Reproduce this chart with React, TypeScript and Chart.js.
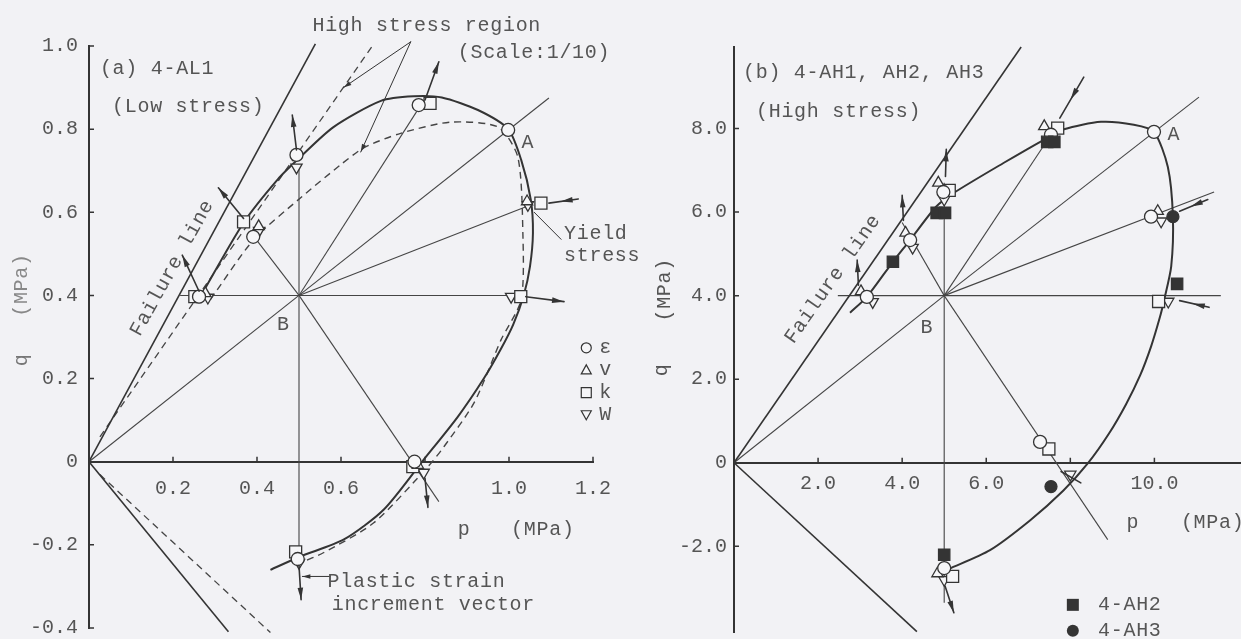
import React, { useEffect, useRef } from 'react';
import { Chart, registerables } from 'chart.js';

Chart.register(...registerables);

type Pt = [number, number];

const INK = '#343434';
const THIN = '#454545';
const TEXT = '#555555';
const PAPER = '#f2f2f5';
const MARKER_FILL = '#f6f6f8';
const FONT = '"Liberation Mono", "DejaVu Sans Mono", monospace';

// ---------------- (a) 4-AL1, low stress ----------------
const centreA: Pt = [0.5, 0.4];
const failureLineA: Pt[] = [[0, 0], [0.539, 1.005]];
const lowerLineA: Pt[] = [[0, 0], [0.332, -0.409]];
const scaledFailureA: Pt[] = [[0.026, 0.06], [0.678, 1.005]];
const scaledLowerA: Pt[] = [[0.026, -0.031], [0.432, -0.411]];
const rayEndsA: Pt[] = [
  [0, 0], [0.39, 0.545], [0.5, 0.715], [0.785, 0.85], [1.095, 0.875],
  [1.045, 0.615], [0.217, 0.4], [1.0, 0.4], [0.833, -0.096], [0.5, -0.25],
];
const yieldCurveA: Pt[] = [
  [0.265, 0.397], [0.368, 0.575], [0.45, 0.68], [0.5, 0.73], [0.582, 0.805],
  [0.695, 0.868], [0.773, 0.879], [0.84, 0.876], [0.926, 0.846], [0.998, 0.8],
  [1.029, 0.726], [1.052, 0.63], [1.057, 0.55], [1.05, 0.47], [1.035, 0.4],
  [1.01, 0.33], [0.98, 0.27], [0.94, 0.2], [0.878, 0.108], [0.797, 0.005],
  [0.702, -0.115], [0.607, -0.187], [0.503, -0.228], [0.432, -0.26],
];
const scaledYieldA: Pt[] = [
  [0.289, 0.39], [0.392, 0.534], [0.504, 0.635], [0.6, 0.715], [0.654, 0.755],
  [0.742, 0.79], [0.862, 0.817], [0.974, 0.805], [1.021, 0.733], [1.033, 0.55],
  [1.029, 0.39], [0.981, 0.293], [0.917, 0.142], [0.845, 0.036], [0.807, -0.012],
  [0.678, -0.147], [0.558, -0.219], [0.504, -0.243],
];
const epsilonA: Pt[] = [[0.262, 0.397], [0.391, 0.541], [0.494, 0.738], [0.785, 0.858], [0.998, 0.798], [0.775, 0.0], [0.497, -0.234]];
const volumeA: Pt[] = [[0.277, 0.405], [0.404, 0.566], [1.043, 0.626], [0.783, -0.008]];
const kappaA: Pt[] = [[0.252, 0.397], [0.368, 0.577], [0.812, 0.862], [1.076, 0.622], [1.028, 0.397], [0.771, -0.012], [0.492, -0.217]];
const workA: Pt[] = [[0.283, 0.395], [0.405, 0.556], [0.494, 0.708], [1.045, 0.618], [1.005, 0.397], [0.797, -0.026], [0.5, -0.243]];
// plastic strain increment vectors: [tail, tip, head position along the shaft]
const vectorsA: [Pt, Pt, number][] = [
  [[0.262, 0.41], [0.222, 0.497], 1],
  [[0.368, 0.585], [0.308, 0.659], 1],
  [[0.494, 0.75], [0.484, 0.834], 1],
  [[0.8, 0.87], [0.833, 0.962], 1],
  [[1.165, 0.632], [1.095, 0.622], 0.6],
  [[1.04, 0.397], [1.131, 0.385], 1],
  [[0.8, -0.04], [0.807, -0.11], 1],
  [[0.5, -0.25], [0.505, -0.332], 1],
];
const leadersA: [Pt, Pt, number][] = [
  [[0.766, 1.01], [0.647, 0.745], 1],
  [[0.766, 1.01], [0.606, 0.9], 1],
  [[1.124, 0.535], [1.06, 0.6], 0],
  [[0.575, -0.276], [0.508, -0.276], 1],
];
const xTicksA = [0.2, 0.4, 0.6, 0.8, 1.0, 1.2];
const xTickLabelsA = ['0.2', '0.4', '0.6', '', '1.0', '1.2'];
const yTicksA = [-0.4, -0.2, 0, 0.2, 0.4, 0.6, 0.8, 1.0];
const yTickLabelsA = ['-0.4', '-0.2', '0', '0.2', '0.4', '0.6', '0.8', '1.0'];

// ---------------- (b) 4-AH1, AH2, AH3, high stress ----------------
const centreB: Pt = [5.0, 4.0];
const failureLineB: Pt[] = [[0, 0], [6.83, 9.95]];
const lowerLineB: Pt[] = [[0, 0], [4.35, -4.04]];
const rayEndsB: Pt[] = [
  [0, 0], [4.0, 5.75], [5.0, 6.7], [7.54, 7.85], [11.06, 8.75],
  [11.42, 6.48], [2.47, 4.0], [11.58, 4.0], [8.89, -1.84], [5.0, -3.35],
];
const yieldCurveB: Pt[] = [
  [2.76, 3.59], [3.16, 3.97], [3.78, 4.81], [4.19, 5.33], [4.8, 6.12],
  [5.23, 6.46], [6.42, 7.18], [7.37, 7.73], [7.85, 7.98], [8.73, 8.16],
  [9.51, 8.09], [9.99, 7.92], [10.32, 7.08], [10.44, 5.89], [10.4, 4.7],
  [10.23, 3.89], [10.13, 3.48], [9.92, 2.78], [9.66, 2.09], [9.32, 1.39],
  [8.92, 0.7], [8.42, -0.01], [7.83, -0.67], [7.04, -1.38], [6.09, -2.09],
  [5.11, -2.54],
];
const epsilonB: Pt[] = [[3.16, 3.97], [4.19, 5.33], [4.98, 6.48], [7.54, 7.85], [9.99, 7.92], [9.92, 5.89], [7.28, 0.5], [5.0, -2.52]];
const volumeB: Pt[] = [[3.02, 4.1], [4.08, 5.5], [4.86, 6.7], [7.38, 8.05], [10.08, 6.02], [4.84, -2.65]];
const kappaB: Pt[] = [[5.12, 6.52], [7.7, 8.01], [10.1, 3.86], [7.49, 0.33], [5.2, -2.72]];
const workB: Pt[] = [[3.3, 3.85], [4.25, 5.15], [5.0, 6.3], [10.16, 5.78], [10.33, 3.86], [5.0, -2.8], [8.0, -0.28]];
const ah2B: Pt[] = [[3.78, 4.81], [4.82, 5.98], [5.02, 5.98], [7.45, 7.68], [7.62, 7.68], [10.54, 4.28], [5.0, -2.2]];
const ah3B: Pt[] = [[10.44, 5.89], [7.54, -0.57]];
const vectorsB: [Pt, Pt, number][] = [
  [[2.96, 4.25], [2.93, 4.85], 1],
  [[4.03, 5.8], [4.0, 6.4], 1],
  [[5.03, 6.85], [5.05, 7.5], 1],
  [[8.32, 9.23], [7.75, 8.25], 0.55],
  [[11.27, 6.3], [10.6, 6.02], 0.6],
  [[11.3, 3.72], [10.6, 3.88], 0.55],
  [[7.78, -0.21], [8.25, -0.48], 0],
  [[5.02, -2.95], [5.23, -3.59], 1],
];
const xTicksB = [2, 4, 6, 8, 10];
const xTickLabelsB = ['2.0', '4.0', '6.0', '', '10.0'];
const yTicksB = [-2, 0, 2, 4, 6, 8];
const yTickLabelsB = ['-2.0', '0', '2.0', '4.0', '6.0', '8.0'];

type Note = { text: string; at: Pt; align?: CanvasTextAlign; rotate?: number; color?: string };
type Key = { shape: 'circle' | 'triangle' | 'triangleDown' | 'rect'; at: Pt; size: number; filled?: boolean };

const notesA: Note[] = [
  { text: '(a) 4-AL1', at: [0.026, 0.945] },
  { text: '(Low stress)', at: [0.055, 0.853] },
  { text: 'High stress region', at: [0.532, 1.048] },
  { text: '(Scale:1/10)', at: [0.878, 0.983] },
  { text: 'A', at: [1.045, 0.767], align: 'center' },
  { text: 'B', at: [0.463, 0.329], align: 'center' },
  { text: 'Yield', at: [1.131, 0.548] },
  { text: 'stress', at: [1.131, 0.495] },
  { text: 'Plastic strain', at: [0.568, -0.288] },
  { text: 'increment vector', at: [0.578, -0.344] },
  { text: 'p', at: [0.893, -0.163], align: 'center' },
  { text: '(MPa)', at: [1.005, -0.163] },
  { text: 'q', at: [-0.16, 0.245], align: 'center', rotate: -90, color: '#777' },
  { text: '(MPa)', at: [-0.16, 0.425], align: 'center', rotate: -90, color: '#888' },
  { text: 'Failure line', at: [0.198, 0.466], align: 'center', rotate: -61 },
  { text: 'ε', at: [1.215, 0.274] },
  { text: 'v', at: [1.215, 0.221] },
  { text: 'k', at: [1.215, 0.166] },
  { text: 'W', at: [1.215, 0.113] },
];
const keysA: Key[] = [
  { shape: 'circle', at: [1.184, 0.274], size: 10 },
  { shape: 'triangle', at: [1.184, 0.221], size: 10 },
  { shape: 'rect', at: [1.184, 0.166], size: 10 },
  { shape: 'triangleDown', at: [1.184, 0.113], size: 10 },
];
const notesB: Note[] = [
  { text: '(b) 4-AH1, AH2, AH3', at: [0.214, 9.33] },
  { text: '(High stress)', at: [0.523, 8.4] },
  { text: 'A', at: [10.46, 7.85], align: 'center' },
  { text: 'B', at: [4.59, 3.23], align: 'center' },
  { text: 'Failure line', at: [2.35, 4.4], align: 'center', rotate: -55 },
  { text: 'p', at: [9.49, -1.44], align: 'center' },
  { text: '(MPa)', at: [10.63, -1.44] },
  { text: 'q', at: [-1.71, 2.22], align: 'center', rotate: -90 },
  { text: '(MPa)', at: [-1.64, 4.14], align: 'center', rotate: -90 },
  { text: '4-AH2', at: [8.66, -3.4] },
  { text: '4-AH3', at: [8.66, -4.02] },
];
const keysB: Key[] = [
  { shape: 'rect', at: [8.06, -3.4], size: 12, filled: true },
  { shape: 'circle', at: [8.06, -4.02], size: 12, filled: true },
];

const xy = (pts: Pt[]) => pts.map(([x, y]) => ({ x, y }));

function lineSet(pts: Pt[], width: number, colour = THIN, dash: number[] = [], tension = 0) {
  return {
    data: xy(pts), showLine: true, borderColor: colour, borderWidth: width, borderDash: dash,
    tension, pointRadius: 0, pointHoverRadius: 0, fill: false, clip: false as const, order: 2,
  };
}

function markerSet(pts: Pt[], style: string, radius: number, filled = false, rotation = 0) {
  return {
    data: xy(pts), showLine: false, pointStyle: style, pointRadius: radius, pointHoverRadius: radius,
    pointRotation: rotation, pointBackgroundColor: filled ? INK : MARKER_FILL, pointBorderColor: INK,
    pointBorderWidth: 1.3, clip: false as const, order: 0,
  };
}

const inwardTicks = {
  id: 'inwardTicks',
  afterDraw(chart: any) {
    const { ctx } = chart;
    const sx = chart.scales.x;
    const sy = chart.scales.y;
    const y0 = sy.getPixelForValue(0);
    const x0 = sx.getPixelForValue(0);
    ctx.save();
    ctx.strokeStyle = INK;
    ctx.lineWidth = 1.5;
    ctx.beginPath();
    for (const t of sx.ticks) {
      const px = sx.getPixelForValue(t.value);
      ctx.moveTo(px, y0);
      ctx.lineTo(px, y0 - 5);
    }
    for (const t of sy.ticks) {
      const py = sy.getPixelForValue(t.value);
      ctx.moveTo(x0, py);
      ctx.lineTo(x0 + 5, py);
    }
    ctx.stroke();
    ctx.restore();
  },
};

function arrowsPlugin(id: string, items: [Pt, Pt, number][], width: number, headLen: number, headHalf: number) {
  return {
    id,
    afterDatasetsDraw(chart: any) {
      const { ctx } = chart;
      const sx = chart.scales.x;
      const sy = chart.scales.y;
      ctx.save();
      ctx.strokeStyle = INK;
      ctx.fillStyle = INK;
      ctx.lineWidth = width;
      ctx.lineCap = 'round';
      for (const [a, b, headAt] of items) {
        const x1 = sx.getPixelForValue(a[0]);
        const y1 = sy.getPixelForValue(a[1]);
        const x2 = sx.getPixelForValue(b[0]);
        const y2 = sy.getPixelForValue(b[1]);
        ctx.beginPath();
        ctx.moveTo(x1, y1);
        ctx.lineTo(x2, y2);
        ctx.stroke();
        if (headAt > 0) {
          const ang = Math.atan2(y2 - y1, x2 - x1);
          const tx = x1 + (x2 - x1) * headAt;
          const ty = y1 + (y2 - y1) * headAt;
          const c = Math.cos(ang);
          const s = Math.sin(ang);
          ctx.beginPath();
          ctx.moveTo(tx, ty);
          ctx.lineTo(tx - headLen * c + headHalf * s, ty - headLen * s - headHalf * c);
          ctx.lineTo(tx - headLen * c - headHalf * s, ty - headLen * s + headHalf * c);
          ctx.closePath();
          ctx.fill();
        }
      }
      ctx.restore();
    },
  };
}

function notesPlugin(id: string, notes: Note[], keys: Key[]) {
  return {
    id,
    afterDraw(chart: any) {
      const { ctx } = chart;
      const sx = chart.scales.x;
      const sy = chart.scales.y;
      ctx.save();
      ctx.font = `20px ${FONT}`;
      ctx.textBaseline = 'middle';
      if ('letterSpacing' in ctx) (ctx as any).letterSpacing = '0.7px';
      for (const n of notes) {
        const px = sx.getPixelForValue(n.at[0]);
        const py = sy.getPixelForValue(n.at[1]);
        ctx.fillStyle = n.color || TEXT;
        ctx.textAlign = n.align || 'left';
        ctx.save();
        ctx.translate(px, py);
        if (n.rotate) ctx.rotate((n.rotate * Math.PI) / 180);
        ctx.fillText(n.text, 0, 0);
        ctx.restore();
      }
      ctx.strokeStyle = INK;
      ctx.lineWidth = 1.2;
      for (const k of keys) {
        const px = sx.getPixelForValue(k.at[0]);
        const py = sy.getPixelForValue(k.at[1]);
        const h = k.size / 2;
        ctx.beginPath();
        if (k.shape === 'circle') ctx.arc(px, py, h, 0, Math.PI * 2);
        else if (k.shape === 'rect') ctx.rect(px - h, py - h, k.size, k.size);
        else if (k.shape === 'triangle') {
          ctx.moveTo(px, py - h);
          ctx.lineTo(px + h, py + h * 0.8);
          ctx.lineTo(px - h, py + h * 0.8);
          ctx.closePath();
        } else {
          ctx.moveTo(px, py + h);
          ctx.lineTo(px + h, py - h * 0.8);
          ctx.lineTo(px - h, py - h * 0.8);
          ctx.closePath();
        }
        if (k.filled) {
          ctx.fillStyle = INK;
          ctx.fill();
        } else {
          ctx.fillStyle = MARKER_FILL;
          ctx.fill();
          ctx.stroke();
        }
      }
      ctx.restore();
    },
  };
}

type PanelSpec = {
  key: string;
  width: number;
  height: number;
  padding: { left: number; right: number; top: number; bottom: number };
  yAxisWidth: number;
  xRange: [number, number];
  yRange: [number, number];
  xTicks: number[];
  xTickLabels: string[];
  yTicks: number[];
  yTickLabels: string[];
  xLabelPad: number;
  yLabelPad: number;
  datasets: any[];
  vectors: [Pt, Pt, number][];
  leaders: [Pt, Pt, number][];
  notes: Note[];
  keys: Key[];
};

function panelConfig(spec: PanelSpec): any {
  const tickFont = { family: FONT, size: 20 };
  return {
    type: 'scatter',
    data: { datasets: spec.datasets },
    options: {
      animation: false,
      responsive: false,
      maintainAspectRatio: false,
      events: [],
      layout: { padding: spec.padding },
      plugins: { legend: { display: false }, tooltip: { enabled: false } },
      scales: {
        x: {
          type: 'linear',
          min: spec.xRange[0],
          max: spec.xRange[1],
          position: { y: 0 },
          afterBuildTicks: (s: any) => { s.ticks = spec.xTicks.map((v) => ({ value: v })); },
          afterFit: (s: any) => { s.paddingLeft = 0; s.paddingRight = 0; },
          ticks: {
            callback: (_v: any, i: number) => spec.xTickLabels[i],
            font: tickFont, color: TEXT, padding: spec.xLabelPad, maxRotation: 0, autoSkip: false,
          },
          grid: { drawOnChartArea: false, drawTicks: false, color: 'rgba(0,0,0,0)' },
          border: { display: true, color: INK, width: 2 },
        },
        y: {
          type: 'linear',
          min: spec.yRange[0],
          max: spec.yRange[1],
          position: 'left',
          afterBuildTicks: (s: any) => { s.ticks = spec.yTicks.map((v) => ({ value: v })); },
          afterFit: (s: any) => { s.width = spec.yAxisWidth; s.paddingTop = 0; s.paddingBottom = 0; },
          ticks: {
            callback: (_v: any, i: number) => spec.yTickLabels[i],
            font: tickFont, color: TEXT, padding: spec.yLabelPad, autoSkip: false,
          },
          grid: { drawOnChartArea: false, drawTicks: false, color: 'rgba(0,0,0,0)' },
          border: { display: true, color: INK, width: 2 },
        },
      },
    },
    plugins: [
      inwardTicks,
      arrowsPlugin(spec.key + 'Vectors', spec.vectors, 1.6, 12, 2.8),
      arrowsPlugin(spec.key + 'Leaders', spec.leaders, 1.0, 8, 2.2),
      notesPlugin(spec.key + 'Notes', spec.notes, spec.keys),
    ],
  };
}

const rays = (centre: Pt, ends: Pt[]) => ends.map((e) => lineSet([centre, e], 1.1));

// Canvases are taller / wider than the visible page; the frame clips the excess,
// so the plotting areas land exactly where the padding puts them.
const specA: PanelSpec = {
  key: 'a',
  width: 660,
  height: 680,
  padding: { left: 19, right: 67, top: 46, bottom: 52 },
  yAxisWidth: 70,
  xRange: [0, 1.2],
  yRange: [-0.4, 1.0],
  xTicks: xTicksA,
  xTickLabels: xTickLabelsA,
  yTicks: yTicksA,
  yTickLabels: yTickLabelsA,
  xLabelPad: 15,
  yLabelPad: 11,
  datasets: [
    markerSet(epsilonA, 'circle', 6.5),
    markerSet(volumeA, 'triangle', 6.5),
    markerSet(kappaA, 'rect', 8.5),
    markerSet(workA, 'triangle', 6.5, false, 180),
    lineSet(yieldCurveA, 2, INK, [], 0.25),
    lineSet(scaledYieldA, 1.4, THIN, [7, 5], 0.25),
    lineSet(failureLineA, 1.6, INK),
    lineSet(lowerLineA, 1.6, INK),
    lineSet(scaledFailureA, 1.3, THIN, [7, 5]),
    lineSet(scaledLowerA, 1.3, THIN, [7, 5]),
    ...rays(centreA, rayEndsA),
  ],
  vectors: vectorsA,
  leaders: leadersA,
  notes: notesA,
  keys: keysA,
};

const specB: PanelSpec = {
  key: 'b',
  width: 661,
  height: 680,
  padding: { left: 44, right: 40, top: 47, bottom: 48 },
  yAxisWidth: 70,
  xRange: [0, 12.06],
  yRange: [-4.05, 9.95],
  xTicks: xTicksB,
  xTickLabels: xTickLabelsB,
  yTicks: yTicksB,
  yTickLabels: yTickLabelsB,
  xLabelPad: 9,
  yLabelPad: 7,
  datasets: [
    markerSet(ah3B, 'circle', 6, true),
    markerSet(ah2B, 'rect', 8, true),
    markerSet(epsilonB, 'circle', 6.5),
    markerSet(volumeB, 'triangle', 6.5),
    markerSet(kappaB, 'rect', 8.5),
    markerSet(workB, 'triangle', 6.5, false, 180),
    lineSet(yieldCurveB, 2, INK, [], 0.25),
    lineSet(failureLineB, 1.6, INK),
    lineSet(lowerLineB, 1.6, INK),
    ...rays(centreB, rayEndsB),
  ],
  vectors: vectorsB,
  leaders: [],
  notes: notesB,
  keys: keysB,
};

function Panel({ spec, left }: { spec: PanelSpec; left: number }) {
  const ref = useRef<HTMLCanvasElement>(null);
  useEffect(() => {
    const chart = new Chart(ref.current as HTMLCanvasElement, panelConfig(spec));
    return () => chart.destroy();
  }, [spec]);
  return (
    <canvas
      ref={ref}
      width={spec.width}
      height={spec.height}
      style={{ position: 'absolute', left, top: 0, width: spec.width, height: spec.height, display: 'block' }}
    />
  );
}

export default function App() {
  return (
    <div
      style={{
        position: 'fixed', left: 0, top: 0, width: 1241, height: 639,
        background: PAPER, overflow: 'hidden',
      }}
    >
      <Panel spec={specA} left={0} />
      <Panel spec={specB} left={620} />
    </div>
  );
}
